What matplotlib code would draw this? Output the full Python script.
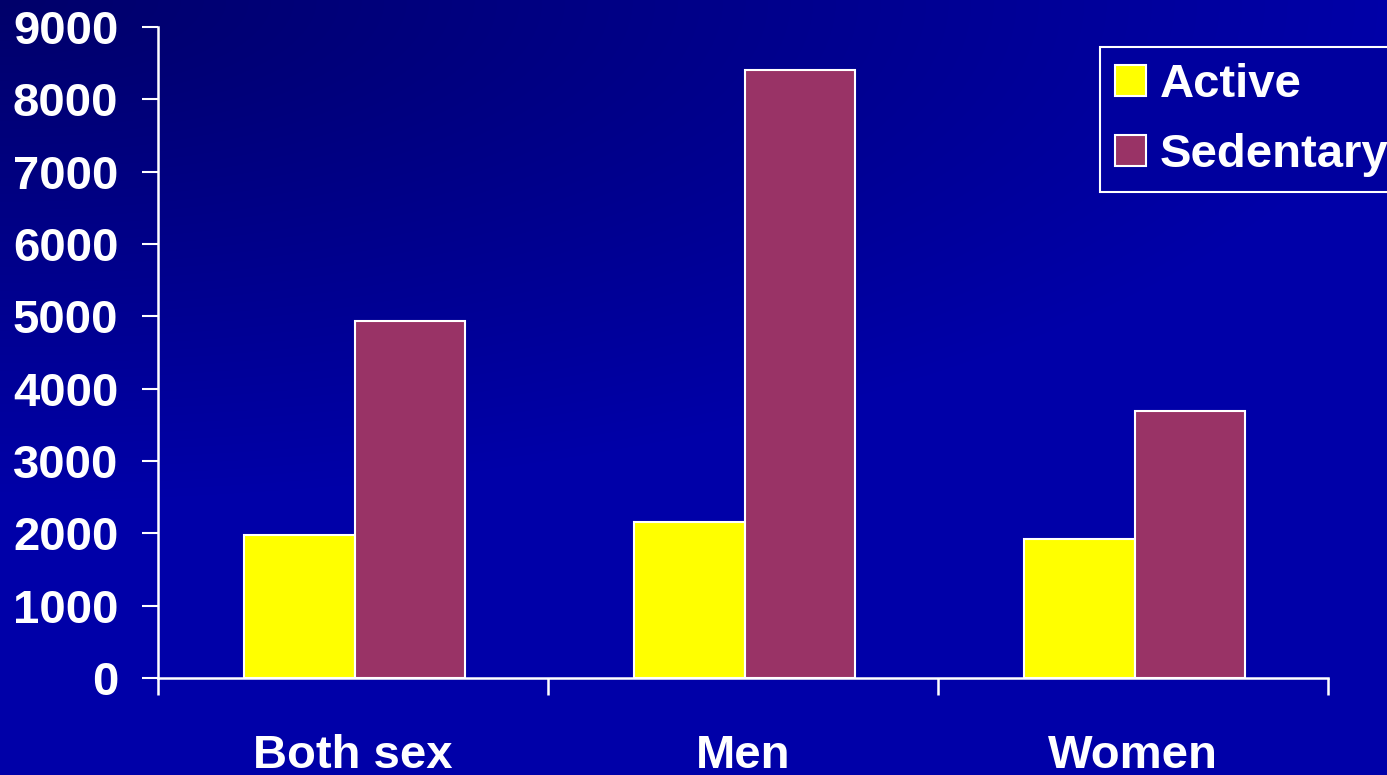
import numpy as np
import matplotlib.pyplot as plt
from matplotlib.ticker import FixedLocator

groups = ['Both sex', 'Men', 'Women']
active = [1980, 2160, 1920]
sedentary = [4940, 8400, 3690]
yticks = [0, 1000, 2000, 3000, 4000, 5000, 6000, 7000, 8000, 9000]

plt.rcParams['font.family'] = ['Liberation Sans', 'DejaVu Sans']
plt.rcParams['font.weight'] = 'bold'

fig = plt.figure(figsize=(13.87, 7.75), dpi=100)

# background: dark navy in the top left corner fading to a brighter blue
bg = fig.add_axes([0, 0, 1, 1], zorder=-1)
w, h = 1387, 775
xx, yy = np.meshgrid(np.arange(w), np.arange(h))
d = np.clip(np.sqrt((xx / 1400.0) ** 2 + (yy / 500.0) ** 2), 0, 1)
blue = (0x6A + (0xA8 - 0x6A) * d) / 255.0
img = np.dstack([np.zeros_like(blue), np.zeros_like(blue), blue])
bg.imshow(img, aspect='auto', extent=[0, 1, 0, 1], origin='upper')
bg.axis('off')

ax = fig.add_axes([0.1139, 0.1252, 0.8436, 0.84])
ax.set_facecolor('none')

x = np.arange(len(groups))
bw = 0.284
ax.bar(x - bw / 2 + 0.004, active, bw, color='#FFFF00', edgecolor='white', linewidth=1.5, label='Active')
ax.bar(x + bw / 2 + 0.004, sedentary, bw, color='#993366', edgecolor='white', linewidth=1.5, label='Sedentary')

ax.set_xlim(-0.5, 2.5)
ax.set_ylim(0, 9000)

for s in ['top', 'right']:
    ax.spines[s].set_visible(False)
for s in ['left', 'bottom']:
    ax.spines[s].set_color('white')
    ax.spines[s].set_linewidth(1.8)

ax.set_yticks(yticks)
ax.set_yticklabels([str(v) for v in yticks])
ax.tick_params(axis='y', colors='white', labelsize=34, length=11.5, width=1.5, pad=17)

ax.set_xticks(x)
ax.set_xticklabels(groups)
ax.xaxis.set_minor_locator(FixedLocator([-0.5, 0.5, 1.5, 2.5]))
ax.tick_params(axis='x', which='major', colors='white', labelsize=34, length=0, pad=40)
ax.tick_params(axis='x', which='minor', colors='white', length=12, width=1.8)
for lbl in ax.get_xticklabels() + ax.get_yticklabels():
    lbl.set_fontweight('bold')

leg = ax.legend(loc='upper left', bbox_to_anchor=(0.805, 0.969), fontsize=34,
                frameon=True, fancybox=False, facecolor='#00009E', edgecolor='white',
                handlelength=0.64, handleheight=0.64, handletextpad=0.3,
                labelspacing=0.55, borderpad=0.33, borderaxespad=0)
leg.get_frame().set_linewidth(1.5)
leg.get_frame().set_alpha(1)
for t in leg.get_texts():
    t.set_color('white')
    t.set_fontweight('bold')

fig.savefig('out.png', dpi=100)
